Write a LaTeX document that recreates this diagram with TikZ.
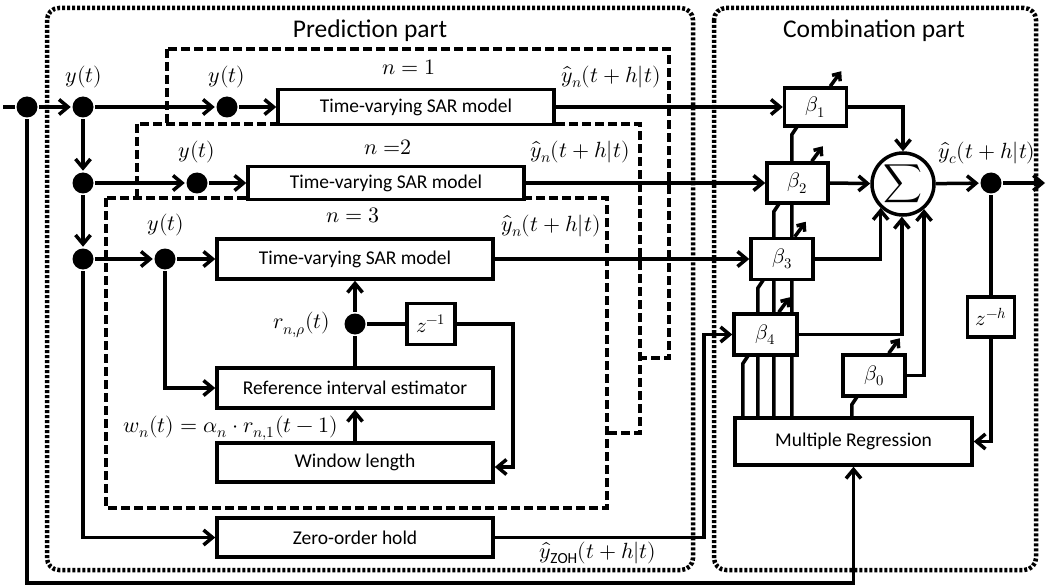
\documentclass[tikz,border=0pt]{standalone}
\usepackage{unicode-math}
\setmainfont{Carlito}
\setmathfont{Latin Modern Math}
\usetikzlibrary{arrows.meta,calc}

\begin{document}
\begin{tikzpicture}[x=1pt,y=-1pt,line width=3.5pt,
  >={Straight Barb[length=9pt,width=15pt]},
  txt/.style={font=\fontsize{19.5}{22}\selectfont},
  blk/.style={draw,fill=white,rectangle,inner sep=0pt,txt},
  jn/.style={circle,fill=black,draw=none,minimum size=21pt,inner sep=0pt},
  lbl/.style={font=\fontsize{22}{25}\selectfont,inner sep=0pt},
  ttl/.style={font=\fontsize{25.5}{30}\selectfont,inner sep=0pt},
  grp/.style={draw,fill=white,line width=3.5pt,dash pattern=on 9pt off 4pt},
  partbox/.style={draw,line width=4.5pt,dash pattern=on 3pt off 2pt,rounded corners=12pt},
  knob/.style={-{Straight Barb[length=6pt,width=10pt]}},
]
\useasboundingbox (0,0) rectangle (1046,588);

% the two parts of the scheme
\draw[partbox] (47,8) rectangle (693,570);
\draw[partbox] (714,8) rectangle (1036,570);
\node[ttl] (ttlP) at (370,31) {Prediction part};
\node[ttl] (ttlC) at (874,31) {Combination part};

% stacked sub-models n = 1, 2, 3
\draw[grp] (167,49) rectangle (669,358);
\draw[grp] (137,124) rectangle (640,433);
\draw[grp] (106,198) rectangle (607,508);

% branching points
\node[jn] (d0) at (27,107) {};
\node[jn] (d1) at (83,107) {};
\node[jn] (d1a) at (227,107) {};
\node[jn] (d2) at (83,183) {};
\node[jn] (d2a) at (197,183) {};
\node[jn] (d3) at (83,259) {};
\node[jn] (d3a) at (165,259) {};
\node[jn] (dr) at (355,324) {};
\node[jn] (dc) at (991,183) {};

% prediction blocks
\node[blk,minimum width=276pt,minimum height=35pt] (sar1) at (416,107) {Time-varying SAR model};
\node[blk,minimum width=276pt,minimum height=33pt] (sar2) at (386,183) {Time-varying SAR model};
\node[blk,minimum width=276pt,minimum height=40pt] (sar3) at (355,259) {Time-varying SAR model};
\node[blk,minimum width=276pt,minimum height=40pt] (rei) at (355,388) {Reference interval estimator};
\node[blk,minimum width=276pt,minimum height=39pt] (wl) at (355,462.5) {Window length};
\node[blk,minimum width=276pt,minimum height=39pt] (zoh) at (355,537.5) {Zero-order hold};
\node[blk,minimum width=48pt,minimum height=41pt,font=\fontsize{21}{24}\selectfont] (z1) at (431,324) {$z^{-1}$};

% combination blocks
\node[blk,minimum width=237pt,minimum height=47pt] (mr) at (853.5,441.5) {Multiple Regression};
\node[blk,minimum width=47pt,minimum height=40pt,font=\fontsize{21}{24}\selectfont] (zh) at (991,317) {$z^{-h}$};

% weight lines from the regression up to each weight
\draw (mr.north west) ++(9.5,0) -- ++(0,-52.5) -- ++(6,-9);
\draw (mr.north west) ++(24.5,0) -- ++(0,-128) -- ++(6,-9);
\draw (mr.north west) ++(40.5,0) -- ++(0,-204.5) -- ++(6,-9);
\draw (mr.north west) ++(58.5,0) -- ++(0,-281.5) -- ++(6,-9);
\draw (mr.north west) ++(118.5,0) -- ++(0,-11.5) -- ++(6,-9);

\tikzset{wbox/.style={blk,font=\fontsize{21}{24}\selectfont,minimum height=41pt}}
\node[wbox,minimum width=62pt,minimum height=38pt] (b1) at (815.5,107) {$\beta_1$};
\node[wbox,minimum width=61pt,minimum height=40pt] (b2) at (797.5,183) {$\beta_2$};
\node[wbox,minimum width=62pt] (b3) at (782,259) {$\beta_3$};
\node[wbox,minimum width=63pt] (b4) at (765.5,334.5) {$\beta_4$};
\node[wbox,minimum width=62pt] (b0) at (874,375.5) {$\beta_0$};
\node[circle,draw,fill=white,minimum size=62pt,inner sep=0pt] (sig) at (903,184)
  {\fontsize{27}{27}\selectfont$\displaystyle\sum$};

% adjustable-weight marks
\foreach \b/\d in {b1/-18,b2/-18,b3/-20,b4/-20,b0/-18}
  \draw[knob] ($(\b.north east)+(\d,0)$) -- ++(11,-15);

% helper points
\coordinate (src) at (3,107);
\coordinate (out) at (1045,183);
\coordinate (fb) at (513,467);
\coordinate (zr) at (704,0);
\coordinate (bt) at (0,583);

% input distribution
\draw (src) -- (d0);
\draw[->] (d0) -- (d1);
\draw[->] (d1) -- (d1a);
\draw[->] (d1a) -- (sar1.west);
\draw[->] (d1) -- (d2);
\draw[->] (d2) -- (d2a);
\draw[->] (d2a) -- (sar2.west);
\draw[->] (d2) -- (d3);
\draw[->] (d3) -- (d3a);
\draw[->] (d3a) -- (sar3.west);
\draw[->] (d3a) |- (rei.west);
\draw[->] (d3) |- (zoh.west);
\draw[->] (d0) |- (bt -| mr.south) -- (mr.south);

% reference interval loop
\draw (rei.north) -- (dr);
\draw[->] (dr) -- (sar3.south);
\draw (dr) -- (z1.west);
\draw[->] (z1.east) -| (fb) -- (fb -| wl.east);
\draw[->] (wl.north) -- (rei.south);

% forecasts to the weights
\draw[->] (sar1.east) -- (b1.west);
\draw[->] (sar2.east) -- (b2.west);
\draw[->] (sar3.east) -- (b3.west);
\draw[->] (zoh.east) -- (zoh.east -| zr) |- (b4.west);

% weighted sum
\draw[->] (b1.east) -| (sig.north);
\draw[->] (b2.east) -- (sig);
\draw[->] (b3.east) -| (sig.227);
\draw[->] (b4.east) -| (sig.268);
\draw[->] (b0.east) -| (sig.310);
\draw[->] (sig) -- (dc);
\draw[->] (dc) -- (out);
\draw (dc) -- (zh.north);
\draw[->] (zh.south) |- (mr.east);

% signal labels
\node[lbl] (ly1) at (84,77) {$y(t)$};
\node[lbl] (ly2) at (227,77) {$y(t)$};
\node[lbl] (ly3) at (197,152) {$y(t)$};
\node[lbl] (ly4) at (166,225) {$y(t)$};
\node[lbl] (ln1) at (409,67) {$n=1$};
\node[lbl] (ln2) at (388,147) {$n\;{=}2$};
\node[lbl] (ln3) at (353,215) {$n=3$};
\node[lbl] (lh1) at (611,77) {$\hat{y}_n(t+h|t)$};
\node[lbl] (lh2) at (580,152) {$\hat{y}_n(t+h|t)$};
\node[lbl] (lh3) at (551,226) {$\hat{y}_n(t+h|t)$};
\node[lbl,anchor=east] (lr) at (332,325) {$r_{n,\rho}(t)$};
\node[lbl] (lw) at (231,428) {$w_n(t)=\alpha_n\cdot r_{n,1}(t-1)$};
\node[lbl] (lz) at (598,553) {$\hat{y}_{\mathrm{ZOH}}(t+h|t)$};
\node[lbl] (lc) at (987,153) {$\hat{y}_c(t+h|t)$};
\end{tikzpicture}
\end{document}
